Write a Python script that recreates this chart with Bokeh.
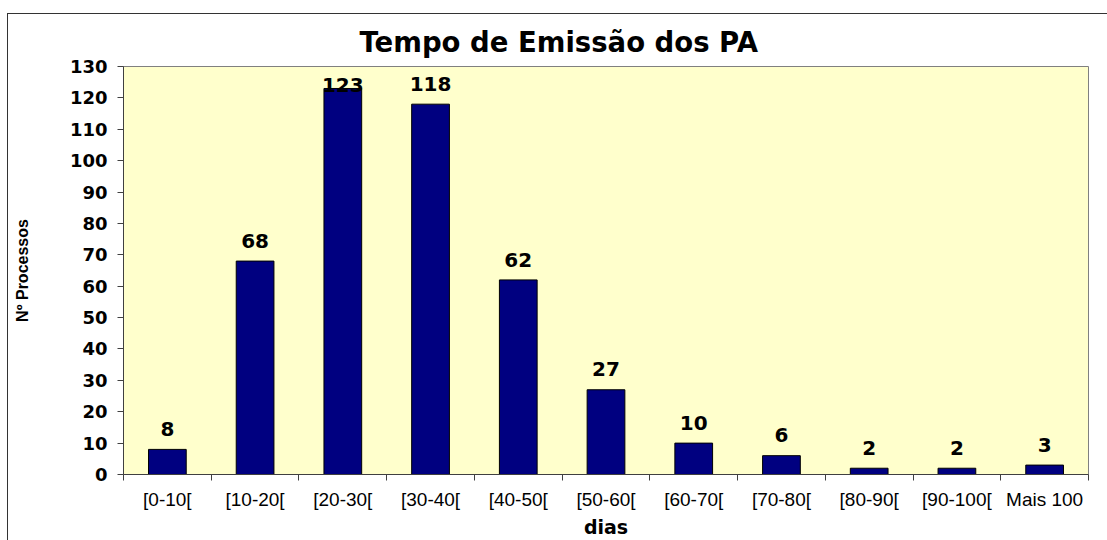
import numpy as np
from bokeh.plotting import figure
from bokeh.models import Range1d, FixedTicker, ColumnDataSource
from bokeh.core.properties import value
from bokeh.embed import file_html
from bokeh.resources import INLINE

categories = ["[0-10[", "[10-20[", "[20-30[", "[30-40[", "[40-50[", "[50-60[",
              "[60-70[", "[70-80[", "[80-90[", "[90-100[", "Mais 100"]
counts = [8, 68, 123, 118, 62, 27, 10, 6, 2, 2, 3]
y_ticks = list(range(0, 131, 10))

xs = np.arange(1, len(categories) + 1)
vals = np.array(counts, dtype=float)
label_y = np.where(vals + 6.5 > 125, vals + 1, vals + 6.5)

src = ColumnDataSource(dict(x=xs, top=vals, ly=label_y, txt=[str(c) for c in counts]))

p = figure(width=1107, height=540, output_backend="svg", toolbar_location=None,
           x_range=Range1d(0.5, len(categories) + 0.5), y_range=Range1d(0, 130),
           min_border_left=123, min_border_right=19, min_border_top=66, min_border_bottom=66,
           background_fill_color="#FFFFCC", border_fill_alpha=0)
# outer chart-area border drawn as host background (behind transparent border fill)
p.styles = {
    "background": "linear-gradient(#333333, #333333) 7px 13px / 2000px 1px no-repeat, "
                  "linear-gradient(#333333, #333333) 7px 13px / 1px 2000px no-repeat, white"
}

p.outline_line_color = "#808080"
p.outline_line_width = 1
p.grid.visible = False

p.vbar(x="x", top="top", width=0.43, source=src, fill_color="#000080",
       line_color="black", line_width=1)
p.text(x="x", y="ly", text="txt", source=src, text_align="center",
       text_baseline="alphabetic", text_font=value("DejaVu Sans"),
       text_font_style="bold", text_font_size="20px", text_color="black")

# title
p.title.text = "Tempo de Emissão dos PA"
p.title.text_font = "DejaVu Sans"
p.title.text_font_size = "27.5px"
p.title.text_font_style = "bold"
p.title.text_color = "black"
p.title.align = "left"
p.title.offset = 236
p.title.standoff = 18

# x axis
xa = p.xaxis[0]
xa.ticker = FixedTicker(ticks=list(xs), minor_ticks=list(np.arange(0.5, len(categories) + 1, 1.0)))
xa.major_label_overrides = {int(i): c for i, c in zip(xs, categories)}
xa.major_tick_line_color = None
xa.minor_tick_in = 0
xa.minor_tick_out = 6
xa.minor_tick_line_color = "#404040"
xa.axis_line_color = "#404040"
xa.major_label_text_font = "Liberation Sans"
xa.major_label_text_font_size = "19px"
xa.major_label_text_font_style = "normal"
xa.major_label_text_color = "black"
xa.major_label_standoff = 8
xa.axis_label = "dias"
xa.axis_label_text_font = "DejaVu Sans"
xa.axis_label_text_font_style = "bold"
xa.axis_label_text_font_size = "19px"
xa.axis_label_text_color = "black"
xa.axis_label_standoff = 3

# y axis
ya = p.yaxis[0]
ya.ticker = FixedTicker(ticks=y_ticks)
ya.major_tick_in = 0
ya.major_tick_out = 6
ya.minor_tick_line_color = None
ya.major_tick_line_color = "#404040"
ya.axis_line_color = "#404040"
ya.major_label_text_font = "DejaVu Sans"
ya.major_label_text_font_style = "bold"
ya.major_label_text_font_size = "18px"
ya.major_label_text_color = "black"
ya.major_label_standoff = 10
ya.axis_label = "Nº Processos"
ya.axis_label_text_font = "Liberation Sans"
ya.axis_label_text_font_style = "bold"
ya.axis_label_text_font_size = "16px"
ya.axis_label_text_color = "black"
ya.axis_label_standoff = 36

open("out.html", "w").write(file_html(p, INLINE))
